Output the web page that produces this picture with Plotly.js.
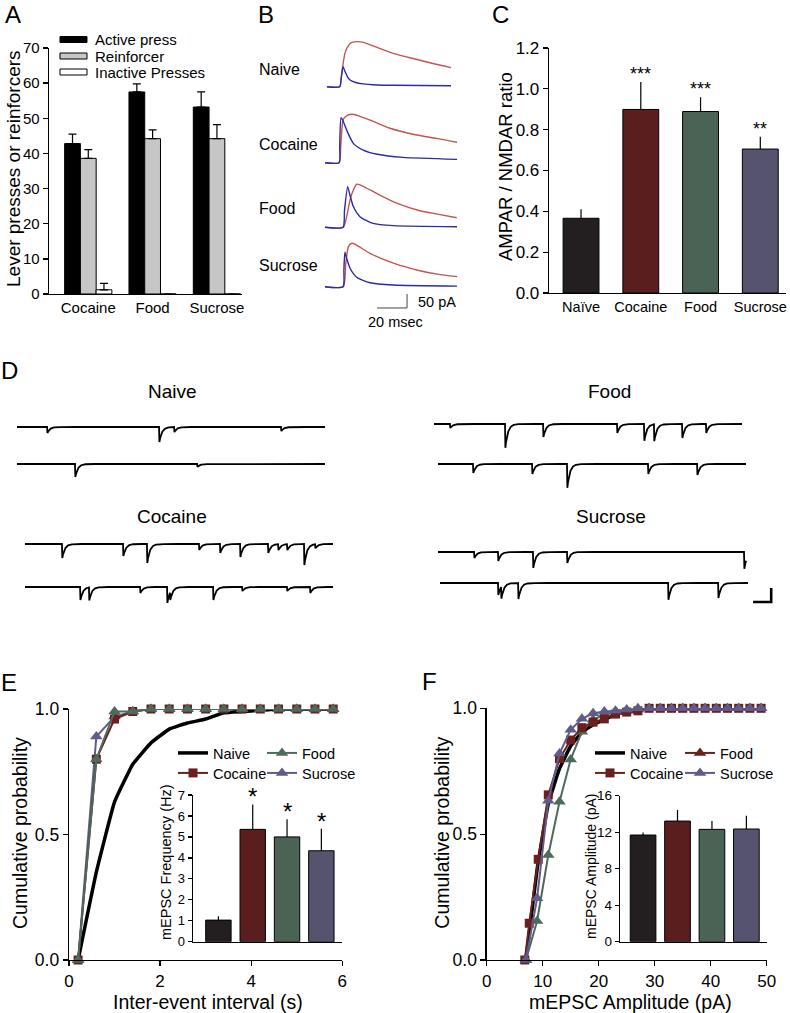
<!DOCTYPE html>
<html>
<head>
<meta charset="utf-8">
<script src="https://cdn.plot.ly/plotly-3.0.1.min.js"></script>
<style>html,body{margin:0;padding:0;background:#fff}#chart{width:790px;height:1013px}</style>
</head>
<body>
<div id="chart"></div>
<script>
// ================= DATA =================
// Panel A: lever presses / reinforcers (one-sided SEM)
const aCategories = ['Cocaine', 'Food', 'Sucrose'];
const aSeriesNames = ['Active press', 'Reinforcer', 'Inactive Presses'];
const aActive = [42.8, 57.5, 53.2];
const aActiveErr = [2.7, 2.3, 4.3];
const aReinforcer = [38.6, 44.2, 44.2];
const aReinforcerErr = [2.5, 2.5, 4.0];
const aInactive = [1.2, 0, 0];
const aInactiveErr = [1.8, 0, 0];
const aTicks = [0, 10, 20, 30, 40, 50, 60, 70];

// Panel B: example EPSCs (time ms, current pA); red = NMDAR, blue = AMPAR
const bGroups = ['Naive', 'Cocaine', 'Food', 'Sucrose'];
const bNaiveRedT = [1.3, 9.8, 11, 13.3, 16, 18, 21.3, 25, 33.3, 46.7, 60, 73.3, 84];
const bNaiveRedI = [0, 0, 40, 120, 150, 158, 161, 159, 143, 117, 99, 81, 68];
const bNaiveBlueT = [1.3, 9.8, 10.8, 12, 13.3, 15, 16.7, 20, 25.3, 35, 45, 84];
const bNaiveBlueI = [0, 0, 30, 71, 55, 35, 24, 16, 10, 6, 5, 3.5];
const bCocaineRedT = [0, 9.4, 10.5, 12, 14, 17.8, 22, 30, 43.3, 61, 74.4, 88];
const bCocaineRedI = [0, 0, 60, 152, 166, 173, 168, 152, 123, 99, 87, 73];
const bCocaineBlueT = [0, 9.4, 9.8, 10.7, 12, 14.4, 18.9, 25.5, 34.9, 52, 88];
const bCocaineBlueI = [0, 0, 60, 161, 150, 117, 69, 45, 30, 19, 12];
const bFoodRedT = [0, 12.2, 14.5, 16.7, 18.9, 21.1, 24, 34.4, 47.8, 63.3, 75, 87.8];
const bFoodRedI = [0, 0, 40, 98, 133, 154, 150, 121, 86, 59, 47, 34];
const bFoodBlueT = [0, 12, 13, 15.1, 16.5, 18.9, 23.3, 32, 45.6, 88];
const bFoodBlueI = [0, 0, 60, 145, 118, 74, 38, 14, 6, 2];
const bSucroseRedT = [0, 12.2, 13.8, 15.6, 17.8, 20.5, 30, 45.6, 63.3, 75, 88];
const bSucroseRedI = [0, 0, 80, 143, 155, 150, 119, 84, 57, 45, 36];
const bSucroseBlueT = [0, 12, 12.6, 13.3, 14.5, 16.7, 21.1, 30, 45.6, 88];
const bSucroseBlueI = [0, 0, 60, 123, 100, 66, 34, 14, 6, 2];
const bScaleMs = 20;
const bScalePa = 50;

// Panel C: AMPAR / NMDAR ratio
const groups = ['Naive', 'Cocaine', 'Food', 'Sucrose'];
const cCategories = ['Naïve', 'Cocaine', 'Food', 'Sucrose'];
const cRatio = [0.366, 0.899, 0.889, 0.705];
const cRatioErr = [0.044, 0.135, 0.07, 0.06];
const cStars = ['', '***', '***', '**'];
const cTicks = [0, 0.2, 0.4, 0.6, 0.8, 1.0, 1.2];

// Panel D: mEPSC events [time ms, amplitude pA]
const dDurationMs = 1700;
const dNaive1 = [[166, 4.3], [784, 10.7], [867, 3.6], [1457, 2.9]];
const dNaive2 = [[320, 9.3], [994, 2.0]];
const dCocaine1 = [[204, 10], [541, 8.6], [673, 13.6], [960, 4.3], [1076, 6.4], [1187, 9.3], [1341, 6.4], [1397, 4.3], [1446, 4.3], [1540, 15], [1601, 2.9]];
const dCocaine2 = [[304, 9.3], [353, 9.3], [635, 4.3], [784, 11.4], [800, 5.7], [1038, 9.3], [1198, 2.9], [1446, 2.9], [1573, 4.3]];
const dFood1 = [[88, 2.9], [392, 17], [602, 9.3], [1010, 6.4], [1159, 12], [1214, 12], [1369, 10], [1501, 6.4]];
const dFood2 = [[193, 6.4], [519, 7.1], [712, 17], [1159, 7.1], [1430, 7.9]];
const dSucrose1 = [[199, 4.3], [331, 6.4], [524, 11.4], [712, 7.9], [1689, 12]];
const dSucrose2 = [[320, 8.6], [337, 8.6], [431, 11.4], [1259, 12], [1535, 10.7]];
const dScaleMs = 100;
const dScalePa = 10;

// Panel E: cumulative inter-event interval
const eX = [0.2, 0.6, 1.0, 1.4, 1.8, 2.2, 2.6, 3.0, 3.4, 3.8, 4.2, 4.6, 5.0, 5.4, 5.8];
const eNaive = [0, 0.35, 0.63, 0.78, 0.865, 0.92, 0.944, 0.96, 0.985, 0.99, 0.995, 1, 1, 1, 1];
const eCocaine = [0, 0.80, 0.96, 0.99, 1, 1, 1, 1, 1, 1, 1, 1, 1, 1, 1];
const eFood = [0, 0.80, 0.99, 0.99, 1, 1, 1, 1, 1, 1, 1, 1, 1, 1, 1];
const eSucrose = [0, 0.89, 0.97, 0.99, 1, 1, 1, 1, 1, 1, 1, 1, 1, 1, 1];
const eFreq = [1.03, 5.36, 5.0, 4.34];
const eFreqErr = [0.19, 1.19, 0.84, 1.05];
const eStars = ['', '*', '*', '*'];

// Panel F: cumulative amplitude
const fX = [7, 9, 11, 13, 15, 17, 19, 21, 23, 25, 27, 29, 31, 33, 35, 37, 39, 41, 43, 45, 47, 49];
const fNaive = [0, 0.36, 0.62, 0.76, 0.85, 0.905, 0.935, 0.955, 0.975, 0.985, 0.99, 1, 1, 1, 1, 1, 1, 1, 1, 1, 1, 1];
const fCocaineX = [6.8, 7.6, 9.2, 11, 13, 15, 17, 19, 21, 23, 25, 27, 29, 31, 33, 35, 37, 39, 41, 43, 45, 47, 49];
const fCocaine = [0, 0.146, 0.40, 0.656, 0.80, 0.874, 0.923, 0.945, 0.958, 0.977, 0.985, 0.99, 1, 1, 1, 1, 1, 1, 1, 1, 1, 1, 1];
const fFood = [0, 0.155, 0.417, 0.629, 0.797, 0.907, 0.955, 0.975, 0.985, 0.99, 0.995, 1, 1, 1, 1, 1, 1, 1, 1, 1, 1, 1];
const fSucrose = [0, 0.245, 0.633, 0.82, 0.915, 0.958, 0.98, 0.987, 0.99, 0.995, 1, 1, 1, 1, 1, 1, 1, 1, 1, 1, 1, 1];
const fAmp = [11.69, 13.22, 12.31, 12.35];
const fAmpErr = [0.29, 1.21, 0.91, 1.45];

// ================= STYLE / LAYOUT =================
const W = 790, H = 1013;
const FONT = 'Liberation Sans, Arial, Helvetica, sans-serif';
const fx = (a, b) => [a / W, b / W];
const fy = (top, bottom) => [1 - bottom / H, 1 - top / H];
const px = v => v / W;
const py = v => 1 - v / H;

const barColors = ['#231f20', '#5a1e1f', '#4a6354', '#56536f'];
const lineColors = {Naive: '#000000', Cocaine: '#6b1f1f', Food: '#4c6b5a', Sucrose: '#5f5c8a'};
const aColors = ['#000000', '#c6c6c6', '#ffffff'];
const A_BAR_W = 0.245, A_OFFSETS = [-0.367, -0.122, 0.122];
const RED = '#c45452', BLUE = '#2b2ba3';

const axBase = {
  showline: true, linecolor: '#000', linewidth: 1.3, ticks: 'outside', ticklen: 5,
  tickwidth: 1.3, tickcolor: '#000', showgrid: false, zeroline: false, fixedrange: true,
  tickfont: {family: FONT, size: 15, color: '#000'}
};
const ax = o => Object.assign({}, axBase, o);
const hidden = (dom, rng, anchor) => ({domain: dom, range: rng, visible: false, fixedrange: true, anchor: anchor, showgrid: false, zeroline: false});
const zeros = arr => arr.map(() => 0);

const traces = [];
const layout = {
  width: W, height: H, margin: {l: 0, r: 0, t: 0, b: 0}, autosize: false,
  paper_bgcolor: '#fff', plot_bgcolor: 'rgba(0,0,0,0)', barmode: 'overlay',
  font: {family: FONT, color: '#000'}, showlegend: true, shapes: [], annotations: []
};
const ann = layout.annotations;
const T = (text, x, y, size, opts) => ann.push(Object.assign({
  text: text, x: px(x), y: py(y), xref: 'paper', yref: 'paper', showarrow: false,
  font: {family: FONT, size: size, color: '#000'}, xanchor: 'center', yanchor: 'middle'
}, opts || {}));

// ---------- Panel A ----------
layout.xaxis = ax({domain: fx(49, 242), range: [-0.61, 2.39], type: 'category', ticks: '', anchor: 'y'});
layout.yaxis = ax({domain: fy(48, 294), range: [0, 70], tickvals: aTicks, anchor: 'x'});
[[aActive, aActiveErr], [aReinforcer, aReinforcerErr], [aInactive, aInactiveErr]].forEach((pair, i) => {
  traces.push({
    type: 'bar', x: aCategories, y: pair[0], name: aSeriesNames[i], xaxis: 'x', yaxis: 'y',
    width: A_BAR_W, offset: A_OFFSETS[i],
    marker: {color: aColors[i], line: {color: '#000', width: 1}},
    error_y: {type: 'data', symmetric: false, array: pair[1], arrayminus: zeros(pair[1]), color: '#000', thickness: 1.2, width: 4},
    showlegend: false, hoverinfo: 'skip'
  });
});
// manual legend for A
const aLegY = [39.5, 56, 72];
aSeriesNames.forEach((n, i) => {
  layout.shapes.push({type: 'rect', xref: 'paper', yref: 'paper', x0: px(60), x1: px(87), y0: py(aLegY[i] + 3), y1: py(aLegY[i] - 3),
    fillcolor: aColors[i], line: {color: '#000', width: 1}});
  T(n, 93, aLegY[i], 15, {xanchor: 'left'});
});
T('Lever presses or reinforcers', 13, 169, 19, {textangle: -90});

// ---------- Panel C ----------
layout.xaxis2 = ax({domain: fx(549, 786), range: [-0.536, 3.43], type: 'category', ticks: '', anchor: 'y2', tickfont: {family: FONT, size: 14.5, color: '#000'}});
layout.yaxis2 = ax({domain: fy(48, 293), range: [0, 1.2], tickvals: cTicks, tickformat: '.1f', anchor: 'x2', tickfont: {family: FONT, size: 17, color: '#000'}});
traces.push({
  type: 'bar', x: cCategories, y: cRatio, xaxis: 'x2', yaxis: 'y2', width: 0.6,
  marker: {color: barColors, line: {color: '#000', width: 1}},
  error_y: {type: 'data', symmetric: false, array: cRatioErr, arrayminus: zeros(cRatioErr), color: '#000', thickness: 1.2, width: 0},
  showlegend: false, hoverinfo: 'skip'
});
cCategories.forEach((c, i) => {
  if (cStars[i]) ann.push({text: cStars[i], x: c, y: cRatio[i] + cRatioErr[i], xref: 'x2', yref: 'y2', showarrow: false,
    yanchor: 'bottom', yshift: -4, font: {family: FONT, size: 18, color: '#000'}});
});
T('AMPAR / NMDAR ratio', 505, 167, 18.5, {textangle: -90});

// ---------- Panel B ----------
const bRows = [
  {red: [bNaiveRedT, bNaiveRedI], blue: [bNaiveBlueT, bNaiveBlueI], base: 86.7, labelY: 70},
  {red: [bCocaineRedT, bCocaineRedI], blue: [bCocaineBlueT, bCocaineBlueI], base: 162.7, labelY: 144},
  {red: [bFoodRedT, bFoodRedI], blue: [bFoodBlueT, bFoodBlueI], base: 227.3, labelY: 208},
  {red: [bSucroseRedT, bSucroseRedI], blue: [bSucroseBlueT, bSucroseBlueI], base: 286.7, labelY: 266}
];
const B_PX_PER_PA = 0.28;
bRows.forEach((r, i) => {
  const n = 7 + i;
  const yMin = i === 3 ? -85 : -20;
  layout['xaxis' + n] = hidden(fx(325, 457), [0, 88], 'y' + n);
  layout['yaxis' + n] = hidden(fy(r.base - 200 * B_PX_PER_PA, r.base - yMin * B_PX_PER_PA), [yMin, 200], 'x' + n);
  traces.push({type: 'scatter', mode: 'lines', x: r.red[0], y: r.red[1], xaxis: 'x' + n, yaxis: 'y' + n,
    line: {color: RED, width: 1.4, shape: 'spline', smoothing: 0.6}, showlegend: false, hoverinfo: 'skip'});
  traces.push({type: 'scatter', mode: 'lines', x: r.blue[0], y: r.blue[1], xaxis: 'x' + n, yaxis: 'y' + n,
    line: {color: BLUE, width: 1.4, shape: 'spline', smoothing: 0.6}, showlegend: false, hoverinfo: 'skip'});
  T(bGroups[i], 257, r.labelY, 16, {xanchor: 'left'});
});
// B scale bar (in sucrose row axes)
const bBarX0 = 34.7, bBarY0 = -76;
traces.push({type: 'scatter', mode: 'lines', xaxis: 'x10', yaxis: 'y10',
  x: [bBarX0, bBarX0 + bScaleMs, bBarX0 + bScaleMs], y: [bBarY0, bBarY0, bBarY0 + bScalePa],
  line: {color: '#444', width: 1}, showlegend: false, hoverinfo: 'skip'});
T(bScalePa + ' pA', 416, 302, 14.5, {xanchor: 'left'});
T(bScaleMs + ' msec', 395, 322, 14.5);

// ---------- Panel D ----------
function eventTrace(events, dur) {
  const t = [], y = [];
  for (let s = 0; s <= dur; s += 1) {
    let v = 0;
    for (const ev of events) {
      const d = s - ev[0];
      if (d >= 0) v -= ev[1] * (d < 2 ? d / 2 : Math.exp(-(d - 2) / 14));
    }
    t.push(s); y.push(v);
  }
  return [t, y];
}
const D_PX_PER_MS = 308 / 1700, D_PX_PER_PA = 1.4, D_RANGE_MS = 1850;
const dRows = [
  {ev: dNaive1, x0: 17, base: 427}, {ev: dNaive2, x0: 17, base: 464},
  {ev: dCocaine1, x0: 25, base: 544}, {ev: dCocaine2, x0: 25, base: 587},
  {ev: dFood1, x0: 434, base: 424}, {ev: dFood2, x0: 438, base: 464},
  {ev: dSucrose1, x0: 438, base: 552}, {ev: dSucrose2, x0: 440, base: 583}
];
dRows.forEach((r, i) => {
  const n = 11 + i;
  layout['xaxis' + n] = hidden(fx(r.x0, r.x0 + D_RANGE_MS * D_PX_PER_MS), [0, D_RANGE_MS], 'y' + n);
  layout['yaxis' + n] = hidden(fy(r.base - 5 * D_PX_PER_PA, r.base + 25 * D_PX_PER_PA), [-25, 5], 'x' + n);
  const tr = eventTrace(r.ev, dDurationMs);
  traces.push({type: 'scatter', mode: 'lines', x: tr[0], y: tr[1], xaxis: 'x' + n, yaxis: 'y' + n,
    line: {color: '#000', width: 1.8}, showlegend: false, hoverinfo: 'skip'});
});
const dBarX0 = 1728, dBarY0 = -13.6;
traces.push({type: 'scatter', mode: 'lines', xaxis: 'x18', yaxis: 'y18',
  x: [dBarX0, dBarX0 + dScaleMs, dBarX0 + dScaleMs], y: [dBarY0, dBarY0, dBarY0 + dScalePa],
  line: {color: '#000', width: 2.6}, showlegend: false, hoverinfo: 'skip'});
T('Naive', 172, 392, 19); T('Food', 609, 392, 19);
T('Cocaine', 172, 516, 19); T('Sucrose', 611, 516, 19);

// ---------- Panel E ----------
layout.xaxis3 = ax({domain: fx(69, 342.3), range: [0, 6], tickvals: [0, 2, 4, 6], anchor: 'y3', tickfont: {family: FONT, size: 17, color: '#000'}});
layout.yaxis3 = ax({domain: fy(709, 960), range: [0, 1], tickvals: [0, 0.5, 1], tickformat: '.1f', anchor: 'x3', tickfont: {family: FONT, size: 17.5, color: '#000'}});
const legBase = {orientation: 'h', xanchor: 'left', yanchor: 'middle', bgcolor: 'rgba(0,0,0,0)', itemwidth: 30,
  font: {family: FONT, size: 14.5, color: '#000'}};
const legendAt = (x, y) => Object.assign({}, legBase, {x: px(x), y: py(y)});
layout.legend = legendAt(173, 753);   // E Naive
layout.legend2 = legendAt(262, 753);  // E Food
layout.legend3 = legendAt(173, 773);  // E Cocaine
layout.legend4 = legendAt(262, 773);  // E Sucrose
layout.legend5 = legendAt(590, 753);  // F Naive
layout.legend6 = legendAt(680, 753);  // F Food
layout.legend7 = legendAt(590, 773);  // F Cocaine
layout.legend8 = legendAt(680, 773);  // F Sucrose

traces.push({type: 'scatter', mode: 'lines', name: 'Naive', x: eX, y: eNaive, xaxis: 'x3', yaxis: 'y3',
  line: {color: lineColors.Naive, width: 3.5, shape: 'spline', smoothing: 0.3}, legend: 'legend', cliponaxis: false, hoverinfo: 'skip'});
traces.push({type: 'scatter', mode: 'lines+markers', name: 'Sucrose', x: eX, y: eSucrose, xaxis: 'x3', yaxis: 'y3',
  line: {color: lineColors.Sucrose, width: 2}, marker: {symbol: 'triangle-up', size: 11, color: lineColors.Sucrose},
  legend: 'legend4', cliponaxis: false, hoverinfo: 'skip'});
traces.push({type: 'scatter', mode: 'lines+markers', name: 'Cocaine', x: eX, y: eCocaine, xaxis: 'x3', yaxis: 'y3',
  line: {color: lineColors.Cocaine, width: 2}, marker: {symbol: 'square', size: 9, color: lineColors.Cocaine},
  legend: 'legend3', cliponaxis: false, hoverinfo: 'skip'});
traces.push({type: 'scatter', mode: 'lines+markers', name: 'Food', x: eX, y: eFood, xaxis: 'x3', yaxis: 'y3',
  line: {color: lineColors.Food, width: 2}, marker: {symbol: 'triangle-up', size: 11, color: lineColors.Food},
  legend: 'legend2', cliponaxis: false, hoverinfo: 'skip'});

// E inset
layout.xaxis4 = ax({domain: fx(193, 342.3), range: [-0.74, 3.61], type: 'category', ticks: '', showticklabels: false, anchor: 'y4'});
layout.yaxis4 = ax({domain: fy(795, 941.7), range: [0, 7], dtick: 1, ticklen: 4, anchor: 'x4', tickfont: {family: FONT, size: 13, color: '#000'}});
traces.push({type: 'bar', x: groups, y: eFreq, xaxis: 'x4', yaxis: 'y4', width: 0.74,
  marker: {color: barColors, line: {color: '#000', width: 1}},
  error_y: {type: 'data', symmetric: false, array: eFreqErr, arrayminus: zeros(eFreqErr), color: '#000', thickness: 1.2, width: 0},
  showlegend: false, hoverinfo: 'skip'});
groups.forEach((g, i) => {
  if (eStars[i]) ann.push({text: eStars[i], x: g, y: eFreq[i] + eFreqErr[i], xref: 'x4', yref: 'y4', showarrow: false,
    yanchor: 'bottom', yshift: -8, font: {family: FONT, size: 24, color: '#000'}});
});
T('mEPSC Frequency (Hz)', 166, 862, 14.5, {textangle: -90});
T('Cumulative probability', 20, 833, 19.5, {textangle: -90});
T('Inter-event interval (s)', 208, 1002, 19.5);

// ---------- Panel F ----------
layout.xaxis5 = ax({domain: fx(486.7, 766.7), range: [0, 50], dtick: 10, anchor: 'y5', tickfont: {family: FONT, size: 17, color: '#000'}});
layout.yaxis5 = ax({domain: fy(708.3, 960), range: [0, 1], tickvals: [0, 0.5, 1], tickformat: '.1f', anchor: 'x5', tickfont: {family: FONT, size: 17.5, color: '#000'}});
traces.push({type: 'scatter', mode: 'lines', name: 'Naive', x: fX, y: fNaive, xaxis: 'x5', yaxis: 'y5',
  line: {color: lineColors.Naive, width: 3.5, shape: 'spline', smoothing: 0.3}, legend: 'legend5', cliponaxis: false, hoverinfo: 'skip'});
traces.push({type: 'scatter', mode: 'lines+markers', name: 'Food', x: fX, y: fFood, xaxis: 'x5', yaxis: 'y5',
  line: {color: lineColors.Food, width: 2}, marker: {symbol: 'triangle-up', size: 11, color: lineColors.Food},
  showlegend: false, cliponaxis: false, hoverinfo: 'skip'});
traces.push({type: 'scatter', mode: 'lines+markers', name: 'Cocaine', x: fCocaineX, y: fCocaine, xaxis: 'x5', yaxis: 'y5',
  line: {color: lineColors.Cocaine, width: 2}, marker: {symbol: 'square', size: 9, color: lineColors.Cocaine},
  legend: 'legend7', cliponaxis: false, hoverinfo: 'skip'});
traces.push({type: 'scatter', mode: 'lines+markers', name: 'Sucrose', x: fX, y: fSucrose, xaxis: 'x5', yaxis: 'y5',
  line: {color: lineColors.Sucrose, width: 2}, marker: {symbol: 'triangle-up', size: 11, color: lineColors.Sucrose},
  legend: 'legend8', cliponaxis: false, hoverinfo: 'skip'});
// legend entry as printed in the original (Food swatch shown in maroon)
traces.push({type: 'scatter', mode: 'lines+markers', name: 'Food', x: [null], y: [null], xaxis: 'x5', yaxis: 'y5',
  line: {color: lineColors.Cocaine, width: 2}, marker: {symbol: 'triangle-up', size: 11, color: lineColors.Cocaine},
  legend: 'legend6', hoverinfo: 'skip'});

// F inset
layout.xaxis6 = ax({domain: fx(620, 766.7), range: [-0.67, 3.59], type: 'category', ticks: '', showticklabels: false, anchor: 'y6'});
layout.yaxis6 = ax({domain: fy(795.7, 941.7), range: [0, 16], tickvals: [0, 4, 8, 12, 16], ticklen: 4, anchor: 'x6', tickfont: {family: FONT, size: 13.5, color: '#000'}});
traces.push({type: 'bar', x: groups, y: fAmp, xaxis: 'x6', yaxis: 'y6', width: 0.745,
  marker: {color: barColors, line: {color: '#000', width: 1}},
  error_y: {type: 'data', symmetric: false, array: fAmpErr, arrayminus: zeros(fAmpErr), color: '#000', thickness: 1.2, width: 0},
  showlegend: false, hoverinfo: 'skip'});
T('mEPSC Amplitude (pA)', 591, 866, 14, {textangle: -90});
T('Cumulative probability', 441.7, 833, 19.5, {textangle: -90});
T('mEPSC Amplitude (pA)', 630, 1002, 19.5);

// ---------- Panel letters ----------
T('A', 3, 15, 24, {xanchor: 'left'});
T('B', 256, 15, 24, {xanchor: 'left'});
T('C', 490, 15, 24, {xanchor: 'left'});
T('D', -1, 370, 24, {xanchor: 'left'});
T('E', -1, 682, 24, {xanchor: 'left'});
T('F', 420, 681, 24, {xanchor: 'left'});

Plotly.newPlot('chart', traces, layout, {staticPlot: true, displayModeBar: false});
</script>
</body>
</html>
